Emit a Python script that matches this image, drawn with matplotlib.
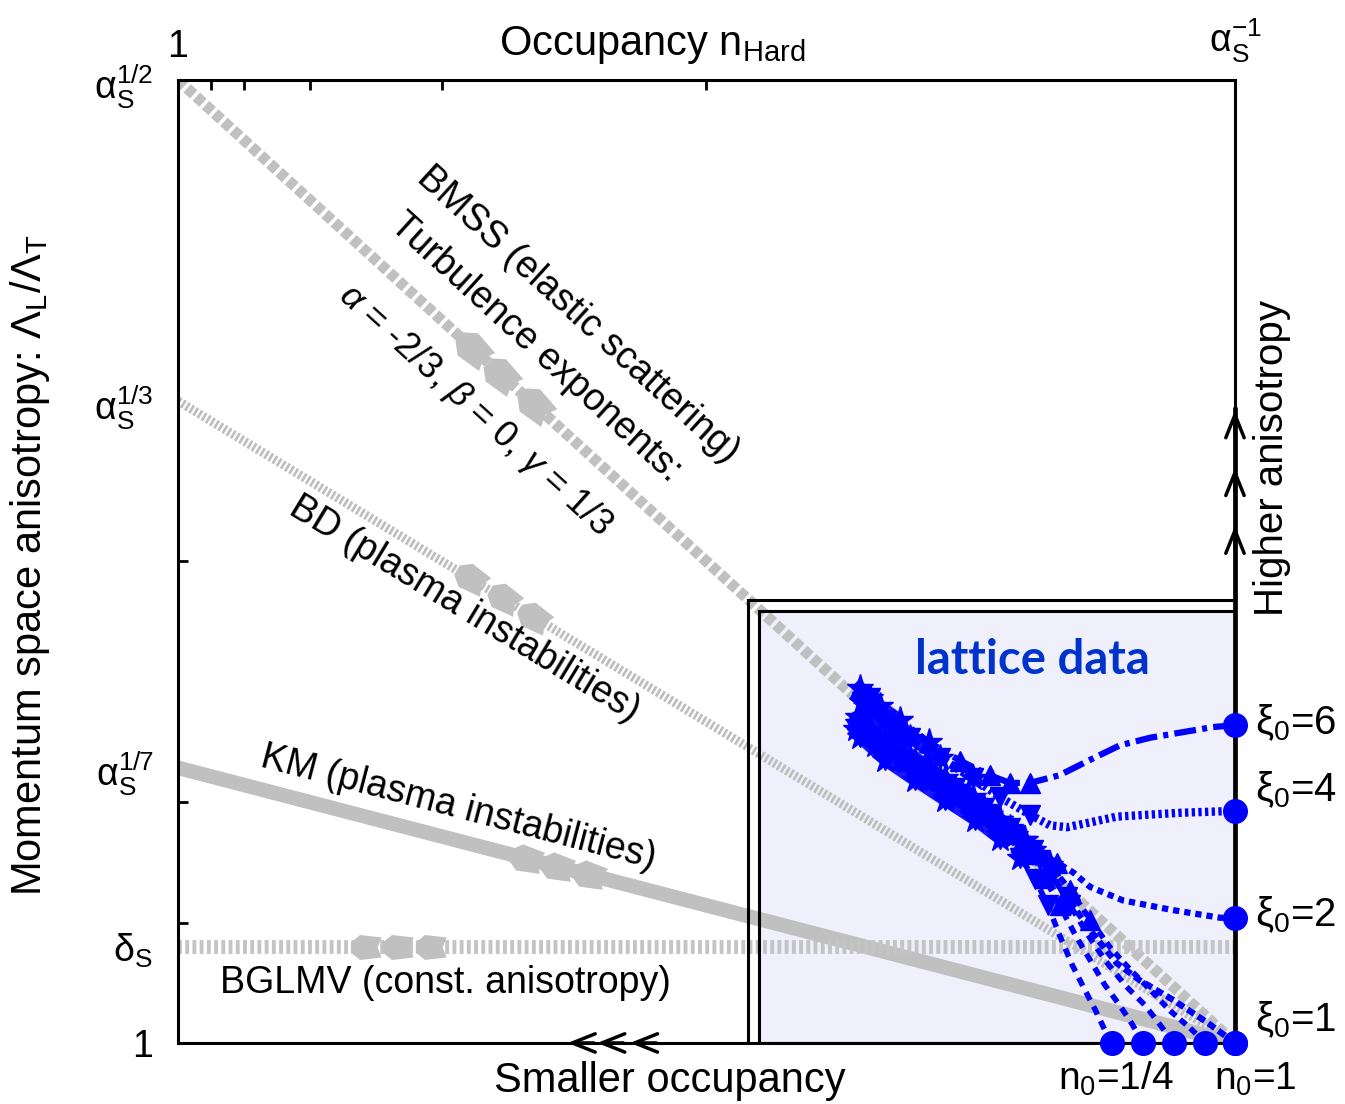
import numpy as np
import matplotlib.pyplot as plt
from matplotlib.markers import MarkerStyle
from matplotlib.path import Path
from matplotlib.transforms import Affine2D
from matplotlib.patches import Rectangle

plt.rcParams['font.family'] = ['Liberation Sans', 'DejaVu Sans']
plt.rcParams['mathtext.fontset'] = 'custom'
plt.rcParams['mathtext.rm'] = 'Liberation Sans'
plt.rcParams['mathtext.it'] = 'Liberation Sans:italic'
plt.rcParams['mathtext.bf'] = 'Liberation Sans:bold'

# x: log occupancy, 0 -> n = 1, 1 -> n = alpha_s^-1
# y: log anisotropy, 0 -> 1, 1 -> alpha_s^1/2
occ_ticks = [1/32, 1/16, 1/8, 1/4, 1/2]
occ_labels_at = [0, 1]
occ_labels = ['1', r'$\mathrm{α_S^{-1}}$']
aniso_minor = [0.1, 1/8, 1/4, 1/2, 2/3]
aniso_major = [0, 0.1, 2/7, 2/3, 1]
aniso_labels = ['1', r'$\mathrm{δ_S}$', r'$\mathrm{α_S^{1/7}}$',
                r'$\mathrm{α_S^{1/3}}$', r'$\mathrm{α_S^{1/2}}$']

# scenarios (start anisotropy at n = 1, all end at (1, 0))
bmss_start = 1.0
bd_start = 2/3
km_start = 2/7
bglmv_level = 0.1

bmss_arrows = [0.280, 0.307, 0.339]
bd_arrows = [0.278, 0.309, 0.338]
km_arrows = [0.330, 0.360, 0.390]
bglmv_arrows = [0.179, 0.209, 0.240]

# lattice box
box_left = 0.550
box_top = 0.449
box_outer_left = 0.539
box_outer_top = 0.460

# lattice trajectories
xi6_x = [1.000, 0.979, 0.920, 0.891, 0.863, 0.834, 0.806, 0.787, 0.768, 0.740, 0.711, 0.683, 0.664, 0.645]
xi6_y = [0.330, 0.328, 0.317, 0.309, 0.294, 0.278, 0.270, 0.270, 0.278, 0.293, 0.312, 0.335, 0.350, 0.369]
xi4_x = [1.000, 0.948, 0.888, 0.863, 0.841, 0.825, 0.806, 0.778, 0.752, 0.721, 0.693, 0.669, 0.647]
xi4_y = [0.241, 0.239, 0.235, 0.229, 0.224, 0.226, 0.237, 0.255, 0.275, 0.296, 0.317, 0.335, 0.354]
xi2_x = [1.000, 0.986, 0.941, 0.894, 0.863, 0.847, 0.832, 0.816, 0.799, 0.778, 0.752, 0.726, 0.697, 0.669, 0.643]
xi2_y = [0.130, 0.130, 0.138, 0.148, 0.162, 0.177, 0.187, 0.197, 0.211, 0.232, 0.255, 0.275, 0.293, 0.314, 0.338]
xi1_x = [1.000, 0.974, 0.941, 0.910, 0.888, 0.863, 0.841, 0.816, 0.792, 0.768, 0.740, 0.711, 0.683, 0.659, 0.641]
xi1_y = [0.000, 0.021, 0.045, 0.065, 0.083, 0.117, 0.152, 0.190, 0.216, 0.237, 0.258, 0.275, 0.294, 0.309, 0.326]
n0a_x = [0.884, 0.877, 0.868, 0.858, 0.846, 0.834, 0.823, 0.811, 0.797, 0.778, 0.754, 0.726, 0.697, 0.669, 0.645]
n0a_y = [0.000, 0.013, 0.034, 0.055, 0.081, 0.112, 0.143, 0.170, 0.192, 0.212, 0.232, 0.252, 0.273, 0.294, 0.318]
n0b_x = [0.913, 0.903, 0.891, 0.877, 0.863, 0.849, 0.834, 0.820, 0.804, 0.782, 0.759, 0.730, 0.702, 0.674, 0.650]
n0b_y = [0.000, 0.019, 0.039, 0.060, 0.086, 0.112, 0.143, 0.171, 0.196, 0.217, 0.237, 0.258, 0.279, 0.302, 0.340]
n0c_x = [0.942, 0.929, 0.915, 0.896, 0.877, 0.861, 0.844, 0.827, 0.809, 0.787, 0.763, 0.735, 0.707, 0.678, 0.655]
n0c_y = [0.000, 0.019, 0.039, 0.060, 0.086, 0.112, 0.143, 0.174, 0.200, 0.223, 0.244, 0.265, 0.288, 0.312, 0.358]
n0d_x = [0.972, 0.957, 0.938, 0.920, 0.901, 0.882, 0.863, 0.844, 0.825, 0.801, 0.778, 0.749, 0.721, 0.693, 0.664, 0.643]
n0d_y = [0.000, 0.016, 0.034, 0.055, 0.076, 0.099, 0.128, 0.159, 0.185, 0.211, 0.232, 0.252, 0.273, 0.294, 0.315, 0.332]

n0_x = [0.884, 0.913, 0.942, 0.972, 1.0]
n0_names = [r'n$_0$=1/4', r'n$_0$=1']
xi0_y = [0.0, 0.130, 0.241, 0.330]
xi0_label_y = [0.024, 0.133, 0.263, 0.333]
xi0_names = [r'$\mathrm{ξ_0}$=1', r'$\mathrm{ξ_0}$=2', r'$\mathrm{ξ_0}$=4', r'$\mathrm{ξ_0}$=6']

gray = '#c0c0c0'
blue = '#0000ff'

fig = plt.figure(figsize=(13.45, 11.04), dpi=100)
ax = fig.add_axes([0.1323, 0.0553, 0.7859, 0.8723])
ax.set_xlim(0, 1)
ax.set_ylim(0, 1)
for s in ax.spines.values():
    s.set_linewidth(2.2)

ax.xaxis.tick_top()
ax.set_xticks(occ_labels_at, occ_labels)
ax.set_xticks(occ_ticks, minor=True)
ax.tick_params(axis='x', which='major', length=0, pad=11, labelsize=27)
ax.tick_params(axis='x', which='minor', direction='in', length=7, width=2)
ax.set_yticks(aniso_major, aniso_labels)
ax.set_yticks(aniso_minor, minor=True)
ax.tick_params(axis='y', which='major', length=0, pad=18, labelsize=27)
ax.tick_params(axis='y', which='minor', direction='in', length=7, width=2)

ax.text(0.449, 1.026, r'Occupancy n$_\mathrm{Hard}$', fontsize=30,
        ha='center', va='baseline', transform=ax.transAxes)
fig.text(30 / 1345, 1 - 565 / 1104, r'Momentum space anisotropy: $\mathrm{Λ_L/Λ_T}$',
         fontsize=30, rotation=90, ha='center', va='center')
ax.text(0.465, -0.051, 'Smaller occupancy', fontsize=30, ha='center', va='baseline',
        transform=ax.transAxes)
ax.text(1.035, 0.607, 'Higher anisotropy', fontsize=29, rotation=90, ha='center',
        va='center', transform=ax.transAxes)

# lattice region
ax.add_patch(Rectangle((box_left, 0), 1 - box_left, box_top, facecolor='#f0f0fc',
                       edgecolor='none', zorder=0.5))
ax.add_patch(Rectangle((box_left, 0), 1 - box_left, box_top, fill=False,
                       edgecolor='black', lw=2.2, zorder=2.6))
ax.add_patch(Rectangle((box_outer_left, 0), 1 - box_outer_left, box_outer_top, fill=False,
                       edgecolor='black', lw=2.2, zorder=2.6))
ax.text(0.808, 0.398, 'lattice data', fontsize=34, fontweight='bold', family='Lato',
        color='#0033cc', ha='center', va='center', zorder=4)

# scenario lines
ax.plot([0, 1], [bmss_start, 0], color=gray, lw=8, ls=(0, (0.8, 0.32)), zorder=2)
ax.plot([0, 1], [bd_start, 0], color='#bebebe', lw=6.5, ls=(0, (0.3, 0.24)), zorder=2)
ax.plot([0, 1], [km_start, 0], color=gray, lw=10.5, solid_capstyle='butt', zorder=2)
ax.plot([0, 1], [bglmv_level, bglmv_level], color='#c4c4c4', lw=10,
        ls=(0, (0.28, 0.24)), zorder=2)

arrow_path = Path([(-1.0, -0.3), (-1.0, 0.3), (-0.45, 0.75), (0.85, 0.6), (0.6, 0.0),
                   (0.85, -0.6), (-0.45, -0.75), (-1.0, -0.3)], closed=True)


def line_angle(y0, y1):
    p0 = ax.transData.transform((0, y0))
    p1 = ax.transData.transform((1, y1))
    return np.degrees(np.arctan2(p1[1] - p0[1], p1[0] - p0[0]))


def add_arrows(xs, y0, y1, ms):
    ang = line_angle(y0, y1)
    m = MarkerStyle(arrow_path, transform=Affine2D().rotate_deg(ang))
    xs = np.array(xs)
    ys = y0 + (y1 - y0) * xs
    ax.plot(xs, ys, ls='none', marker=m, ms=ms, color=gray, mec='none', zorder=2.1)


add_arrows(bmss_arrows, bmss_start, 0, 29)
add_arrows(bd_arrows, bd_start, 0, 26)
add_arrows(km_arrows, km_start, 0, 26)
add_arrows(bglmv_arrows, bglmv_level, bglmv_level, 24)

label_kw = dict(ha='center', va='center', rotation_mode='anchor')
a_bmss = line_angle(bmss_start, 0)
ax.text(0.378, 0.756, 'BMSS (elastic scattering)', fontsize=27, rotation=a_bmss, **label_kw)
ax.text(0.338, 0.722, 'Turbulence exponents:', fontsize=27, rotation=a_bmss, **label_kw)
ax.text(0.281, 0.657, r'$\mathit{α}$ = -2/3, $\mathit{β}$ = 0, $\mathit{γ}$ = 1/3',
        fontsize=26, rotation=a_bmss, **label_kw)
ax.text(0.2715, 0.450, 'BD (plasma instabilities)', fontsize=27,
        rotation=line_angle(bd_start, 0), **label_kw)
ax.text(0.265, 0.244, 'KM (plasma instabilities)', fontsize=27,
        rotation=line_angle(km_start, 0), **label_kw)
ax.text(0.2535, 0.062, 'BGLMV (const. anisotropy)', fontsize=27, **label_kw)

# lattice trajectories: style, width, marker, index where the dense part starts
curves = [
    (xi6_x, xi6_y, (0, (3.5, 1.0, 0.8, 1.0)), 4.5, '^', 11),
    (xi4_x, xi4_y, (0, (0.4, 0.4)), 6, 'v', 9),
    (xi2_x, xi2_y, (0, (1.0, 0.8)), 4.5, '^', 9),
    (n0a_x, n0a_y, (0, (1.6, 1.3)), 4, 'v', 9),
    (n0b_x, n0b_y, (0, (1.6, 1.3)), 4, '^', 9),
    (n0c_x, n0c_y, (0, (1.6, 1.3)), 4, 'v', 9),
    (n0d_x, n0d_y, (0, (1.4, 1.0)), 4, '^', 9),
    (xi1_x, xi1_y, (0, (1.3, 0.7)), 4.5, 'v', 9),
]
for cx, cy, ls, lw, mk, k in curves:
    ax.plot(cx, cy, color=blue, ls=ls, lw=lw, zorder=3)
    ax.plot(cx[6:], cy[6:], color=blue, ls='none', marker=mk, ms=14, zorder=3)
    ax.plot(cx[k - 1:], cy[k - 1:], color=blue, ls='none', marker='*', ms=20, zorder=3)
    ax.plot(cx[k:], cy[k:], color=blue, ls='-', lw=9, alpha=0.9, zorder=3)

ax.plot(n0_x, [0] * len(n0_x), 'o', color=blue, ms=17, clip_on=False, zorder=5)
ax.plot([1] * len(xi0_y), xi0_y, 'o', color=blue, ms=17, clip_on=False, zorder=5)
for yl, name in zip(xi0_label_y, xi0_names):
    ax.text(1.019, yl, name, fontsize=29, ha='left', va='center')
ax.text(0.887, -0.049, n0_names[0], fontsize=28, ha='center', va='baseline')
ax.text(1.019, -0.049, n0_names[1], fontsize=28, ha='center', va='baseline')

# direction arrows on the frame
ax.plot([1, 1], [0, 0.66], color='black', lw=3.4, solid_capstyle='butt',
        clip_on=False, zorder=2.7)
for y in [0.540, 0.600, 0.660]:
    ax.annotate('', xy=(1, y), xytext=(1, y - 0.03), annotation_clip=False,
                arrowprops=dict(arrowstyle='->,head_length=0.55,head_width=0.22',
                                lw=2.5, color='black', mutation_scale=30))
for x in [0.366, 0.394, 0.425]:
    ax.annotate('', xy=(x, 0), xytext=(x + 0.03, 0), annotation_clip=False,
                arrowprops=dict(arrowstyle='->,head_length=0.55,head_width=0.22',
                                lw=2.5, color='black', mutation_scale=30))

fig.savefig('out.png', dpi=100)
